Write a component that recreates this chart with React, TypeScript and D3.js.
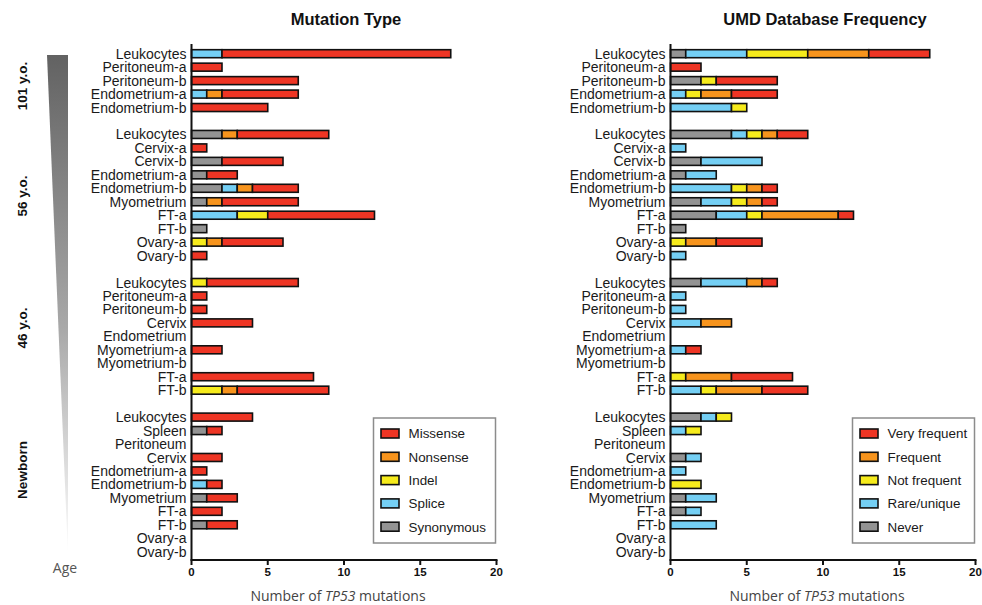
import React from "react";
import * as d3 from "d3";

// Tissue samples, grouped by donor age
const groups = ["101 y.o.", "56 y.o.", "46 y.o.", "Newborn"];
const tissues101 = ["Leukocytes", "Peritoneum-a", "Peritoneum-b", "Endometrium-a", "Endometrium-b"];
const tissues56 = ["Leukocytes", "Cervix-a", "Cervix-b", "Endometrium-a", "Endometrium-b", "Myometrium", "FT-a", "FT-b", "Ovary-a", "Ovary-b"];
const tissues46 = ["Leukocytes", "Peritoneum-a", "Peritoneum-b", "Cervix", "Endometrium", "Myometrium-a", "Myometrium-b", "FT-a", "FT-b"];
const tissuesNewborn = ["Leukocytes", "Spleen", "Peritoneum", "Cervix", "Endometrium-a", "Endometrium-b", "Myometrium", "FT-a", "FT-b", "Ovary-a", "Ovary-b"];
const tissueGroups = [tissues101, tissues56, tissues46, tissuesNewborn];

// Mutation type counts per sample (rows in the order above)
const synonymous = [0, 0, 0, 0, 0, 2, 0, 2, 1, 2, 1, 0, 1, 0, 0, 0, 0, 0, 0, 0, 0, 0, 0, 0, 0, 1, 0, 0, 0, 0, 1, 0, 1, 0, 0];
const splice = [2, 0, 0, 1, 0, 0, 0, 0, 0, 1, 0, 3, 0, 0, 0, 0, 0, 0, 0, 0, 0, 0, 0, 0, 0, 0, 0, 0, 0, 1, 0, 0, 0, 0, 0];
const indel = [0, 0, 0, 0, 0, 0, 0, 0, 0, 0, 0, 2, 0, 1, 0, 1, 0, 0, 0, 0, 0, 0, 0, 2, 0, 0, 0, 0, 0, 0, 0, 0, 0, 0, 0];
const nonsense = [0, 0, 0, 1, 0, 1, 0, 0, 0, 1, 1, 0, 0, 1, 0, 0, 0, 0, 0, 0, 0, 0, 0, 1, 0, 0, 0, 0, 0, 0, 0, 0, 0, 0, 0];
const missense = [15, 2, 7, 5, 5, 6, 1, 4, 2, 3, 5, 7, 0, 4, 1, 6, 1, 1, 4, 0, 2, 0, 8, 6, 4, 1, 0, 2, 1, 1, 2, 2, 2, 0, 0];

// UMD database frequency counts per sample
const never = [1, 0, 2, 0, 0, 4, 0, 2, 1, 0, 2, 3, 1, 0, 0, 2, 0, 0, 0, 0, 0, 0, 0, 0, 2, 0, 0, 1, 0, 0, 1, 1, 0, 0, 0];
const rareUnique = [4, 0, 0, 1, 4, 1, 1, 4, 2, 4, 2, 2, 0, 0, 1, 3, 1, 1, 2, 0, 1, 0, 0, 2, 1, 1, 0, 1, 1, 0, 2, 1, 3, 0, 0];
const notFrequent = [4, 0, 1, 1, 1, 1, 0, 0, 0, 1, 1, 1, 0, 1, 0, 0, 0, 0, 0, 0, 0, 0, 1, 1, 1, 1, 0, 0, 0, 2, 0, 0, 0, 0, 0];
const frequent = [4, 0, 0, 2, 0, 1, 0, 0, 0, 1, 1, 5, 0, 2, 0, 1, 0, 0, 2, 0, 0, 0, 3, 3, 0, 0, 0, 0, 0, 0, 0, 0, 0, 0, 0];
const veryFrequent = [4, 2, 4, 3, 0, 2, 0, 0, 0, 1, 1, 1, 0, 3, 0, 1, 0, 0, 0, 0, 1, 0, 4, 3, 0, 0, 0, 0, 0, 0, 0, 0, 0, 0, 0];

const xTicks = [0, 5, 10, 15, 20];

const RED = "#ee3524";
const ORANGE = "#f7941d";
const YELLOW = "#f6eb1c";
const BLUE = "#74cff4";
const GRAY = "#939393";

type Series = { name: string; values: number[]; color: string };

const typeSeries: Series[] = [
  { name: "Synonymous", values: synonymous, color: GRAY },
  { name: "Splice", values: splice, color: BLUE },
  { name: "Indel", values: indel, color: YELLOW },
  { name: "Nonsense", values: nonsense, color: ORANGE },
  { name: "Missense", values: missense, color: RED },
];

const umdSeries: Series[] = [
  { name: "Never", values: never, color: GRAY },
  { name: "Rare/unique", values: rareUnique, color: BLUE },
  { name: "Not frequent", values: notFrequent, color: YELLOW },
  { name: "Frequent", values: frequent, color: ORANGE },
  { name: "Very frequent", values: veryFrequent, color: RED },
];

// Each sample gets a slot; one empty slot separates consecutive age groups
type Row = { tissue: string; slot: number; index: number };
const rows: Row[] = [];
{
  let slot = 0;
  let index = 0;
  tissueGroups.forEach((g, gi) => {
    g.forEach((t) => {
      rows.push({ tissue: t, slot, index });
      slot++;
      index++;
    });
    if (gi < tissueGroups.length - 1) slot++;
  });
}
const slotCount = rows[rows.length - 1].slot;

const yScale = d3.scaleLinear().domain([0, slotCount]).range([53.7, 551.7]);
const BAR_H = 8;
const AXIS_TOP = 44;
const AXIS_Y = 560;

const labelFont = "Liberation Sans, Arial, Helvetica, sans-serif";

function Panel({ x0, title, series }: { x0: number; title: string; series: Series[] }) {
  const xScale = d3.scaleLinear().domain([0, 20]).range([x0, x0 + 305]);
  const keys = series.map((s) => s.name);
  const table = rows.map((r) => {
    const o: Record<string, number> = {};
    series.forEach((s) => (o[s.name] = s.values[r.index]));
    return o;
  });
  const stacked = d3.stack<Record<string, number>>().keys(keys)(table);
  const cx = (xScale(0) + xScale(20)) / 2;

  const legendX = x0 + 182;
  const legendY = 418;
  const legendItems = [...series].reverse();

  return (
    <g>
      <text x={cx + 2} y={25} textAnchor="middle" fontFamily={labelFont} fontWeight="bold" fontSize={16.5} fill="#111">
        {title}
      </text>
      {rows.map((r) => (
        <text
          key={"l" + r.index}
          x={x0 - 5}
          y={yScale(r.slot)}
          dy="0.36em"
          textAnchor="end"
          fontFamily={labelFont}
          fontSize={14}
          fill="#1a1a1a"
        >
          {r.tissue}
        </text>
      ))}
      {stacked.map((layer, li) =>
        layer.map((seg, i) => {
          if (seg[1] - seg[0] <= 0) return null;
          const r = rows[i];
          return (
            <rect
              key={`b${li}-${i}`}
              x={xScale(seg[0])}
              y={yScale(r.slot) - BAR_H / 2}
              width={xScale(seg[1]) - xScale(seg[0])}
              height={BAR_H}
              fill={series[li].color}
              stroke="#111"
              strokeWidth={1.6}
            />
          );
        })
      )}
      <line x1={xScale(0)} x2={xScale(0)} y1={AXIS_TOP} y2={AXIS_Y} stroke="#111" strokeWidth={2} />
      <line x1={xScale(0) - 1} x2={xScale(20) + 1} y1={AXIS_Y} y2={AXIS_Y} stroke="#111" strokeWidth={2} />
      {xTicks.map((t) => (
        <g key={"t" + t}>
          <line x1={xScale(t)} x2={xScale(t)} y1={AXIS_Y} y2={AXIS_Y + 5} stroke="#111" strokeWidth={2} />
          <text x={xScale(t)} y={AXIS_Y + 16} textAnchor="middle" fontFamily={labelFont} fontWeight="bold" fontSize={11.5} fill="#111">
            {t}
          </text>
        </g>
      ))}
      <text x={cx - 6} y={601} textAnchor="middle" fontFamily="'Open Sans', sans-serif" fontSize={14} fill="#444">
        Number of <tspan fontStyle="italic">TP53</tspan> mutations
      </text>
      <rect x={legendX} y={legendY} width={122} height={125} fill="#fff" stroke="#8c8c8c" strokeWidth={1.5} />
      {legendItems.map((s, i) => {
        const ly = legendY + 15.5 + i * 23.3;
        return (
          <g key={"lg" + s.name}>
            <rect x={legendX + 7.5} y={ly - 4.5} width={18} height={9} fill={s.color} stroke="#111" strokeWidth={1.6} />
            <text x={legendX + 35} y={ly} dy="0.36em" fontFamily={labelFont} fontSize={13.4} fill="#1a1a1a">
              {s.name}
            </text>
          </g>
        );
      })}
    </g>
  );
}

export default function App() {
  const ageLabelY = [86, 196, 328, 470];
  return (
    <svg
      width={982}
      height={605}
      viewBox="0 0 982 605"
      style={{ position: "absolute", left: 0, top: 0, background: "#fff" }}
    >
      <defs>
        <linearGradient id="ageGrad" x1="0" y1="0" x2="0" y2="1">
          <stop offset="0%" stopColor="#626262" />
          <stop offset="55%" stopColor="#a9a9a9" />
          <stop offset="100%" stopColor="#ffffff" />
        </linearGradient>
      </defs>
      <rect x={0} y={0} width={982} height={605} fill="#fff" />
      <polygon points="47,55 68,55 68,556" fill="url(#ageGrad)" />
      {groups.map((g, i) => (
        <text
          key={g}
          transform={`translate(27,${ageLabelY[i]}) rotate(-90)`}
          textAnchor="middle"
          fontFamily={labelFont}
          fontWeight="bold"
          fontSize={13.5}
          fill="#111"
        >
          {g}
        </text>
      ))}
      <text x={65} y={573} textAnchor="middle" fontFamily="'Open Sans', sans-serif" fontSize={14} fill="#555">
        Age
      </text>
      <Panel x0={191.5} title="Mutation Type" series={typeSeries} />
      <Panel x0={670.5} title="UMD Database Frequency" series={umdSeries} />
    </svg>
  );
}
